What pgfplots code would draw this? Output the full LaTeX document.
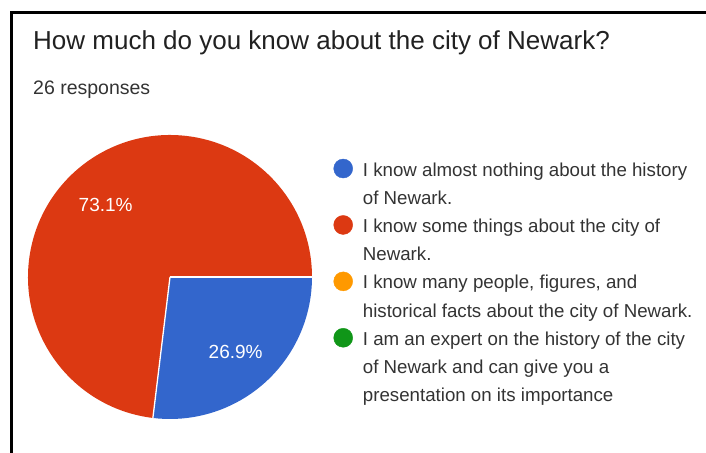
\documentclass[border=0pt]{standalone}
\usepackage{pgfplots}
\usepackage{pgfplotstable}
\pgfplotsset{compat=1.18}
\usetikzlibrary{calc}
\usepackage{fontspec}
\setmainfont{Liberation Sans}
\definecolor{pieBlue}{HTML}{3366CC}
\definecolor{pieRed}{HTML}{DC3912}
\definecolor{pieOrange}{HTML}{FF9900}
\definecolor{pieGreen}{HTML}{109618}
\definecolor{titlegray}{HTML}{212121}
\definecolor{textgray}{HTML}{333333}
\pgfplotstableread{
share count
nothing 7
some 19
many 0
expert 0
}\pietable
\begin{document}
\begin{tikzpicture}
\useasboundingbox (0,0) rectangle (706bp,453bp);
\pgfplotstablegetelem{0}{count}\of\pietable \edef\cA{\pgfplotsretval}
\pgfplotstablegetelem{1}{count}\of\pietable \edef\cB{\pgfplotsretval}
\pgfplotstablegetelem{2}{count}\of\pietable \edef\cC{\pgfplotsretval}
\pgfplotstablegetelem{3}{count}\of\pietable \edef\cD{\pgfplotsretval}
\pgfmathsetmacro\total{\cA+\cB+\cC+\cD}
\pgfmathsetmacro\angA{-360*\cA/\total}
\pgfmathsetmacro\angB{\angA-360*\cB/\total}
\pgfmathsetmacro\midA{\angA/2}
\pgfmathsetmacro\midB{(\angA+\angB)/2}
\pgfmathsetmacro\pctA{100*\cA/\total}
\pgfmathsetmacro\pctB{100*\cB/\total}
\begin{axis}[
  at={(0,0)}, anchor=origin,
  scale only axis, width=706bp, height=453bp,
  xmin=0, xmax=706, ymin=0, ymax=453,
  hide axis, clip=false,
  legend image code/.code={\path (0bp,0bp); \fill[#1] (9.5bp,7.5bp) circle[radius=9.5bp];},
  legend style={at={(axis cs:333.5,298.7)}, anchor=north west, draw=none, fill=none,
    inner sep=0pt, outer sep=0pt, row sep=3bp, column sep=8bp,
    font=\fontsize{18.7bp}{28.2bp}\selectfont, text=textgray,
    cells={anchor=base west, align=left, inner sep=0pt, outer sep=0pt}},
]
% frame
\draw[line width=2.8bp, black] (axis cs:11.3,0) -- (axis cs:11.3,440.6) -- (axis cs:706,440.6);
% title
\node[anchor=base west, inner sep=0pt, text=titlegray, font=\fontsize{26bp}{30bp}\selectfont]
  at (axis cs:33,403) {How much do you know about the city of Newark?};
\node[anchor=base west, inner sep=0pt, text=textgray, font=\fontsize{19.5bp}{24bp}\selectfont]
  at (axis cs:33,358) {26 responses};
% pie
\fill[pieBlue] (axis cs:170,176) -- ++(0:142bp) arc[start angle=0, end angle=\angA, radius=142bp] -- cycle;
\fill[pieRed] (axis cs:170,176) -- ++(\angA:142bp) arc[start angle=\angA, end angle=\angB, radius=142bp] -- cycle;
\draw[white, line width=1.3bp] (axis cs:170,176) -- ++(0:142bp);
\draw[white, line width=1.3bp] (axis cs:170,176) -- ++(\angA:142bp);
\node[text=white, inner sep=0pt, font=\fontsize{19bp}{23bp}\selectfont] at ($(axis cs:170,175)+(\midA:99bp)$)
  {\pgfmathprintnumber[fixed,precision=1,fixed zerofill,assume math mode=true]{\pctA}\%};
\node[text=white, inner sep=0pt, font=\fontsize{19bp}{23bp}\selectfont] at ($(axis cs:170,175)+(\midB:97bp)$)
  {\pgfmathprintnumber[fixed,precision=1,fixed zerofill,assume math mode=true]{\pctB}\%};
% legend
\addlegendimage{pieBlue, yshift=28.2bp}
\addlegendentry{\strut I know almost nothing about the history\\of Newark.\strut}
\addlegendimage{pieRed, yshift=28.2bp}
\addlegendentry{\strut I know some things about the city of\\Newark.\strut}
\addlegendimage{pieOrange, yshift=28.2bp}
\addlegendentry{\strut I know many people, figures, and\\historical facts about the city of Newark.\strut}
\addlegendimage{pieGreen, yshift=56.4bp}
\addlegendentry{\strut I am an expert on the history of the city\\of Newark and can give you a\\presentation on its importance\strut}
\end{axis}
\end{tikzpicture}
\end{document}
